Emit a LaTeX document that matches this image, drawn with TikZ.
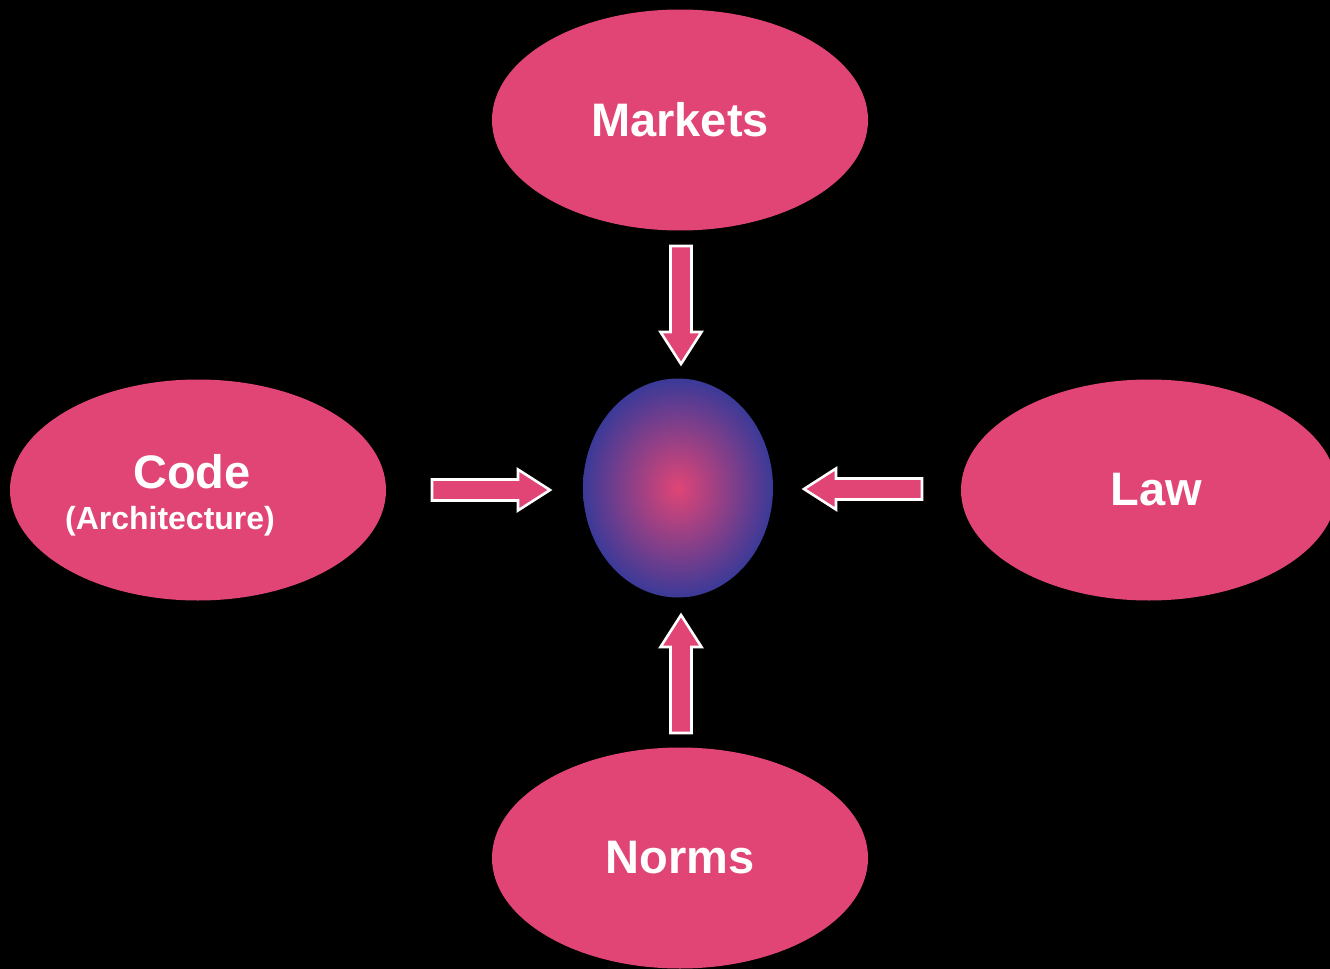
\documentclass[tikz,border=0pt]{standalone}
\usepackage{fontspec}
\setmainfont{Liberation Sans}
\usetikzlibrary{shapes.geometric}
\definecolor{pinkf}{HTML}{E04576}
\definecolor{blueo}{HTML}{3B3A98}
\begin{document}
\begin{tikzpicture}[x=0.5pt,y=-0.5pt,
  oval/.style={ellipse, fill=pinkf, inner sep=0pt, minimum width=188pt, minimum height=110.5pt},
  lbl/.style={text=white, font=\bfseries\fontsize{23.5}{28}\selectfont},
  sublbl/.style={text=white, font=\bfseries\fontsize{16}{19}\selectfont},
  barrow/.pic={\filldraw[fill=pinkf, draw=white, line width=1.3pt, line join=miter]
     (-59,-10.5) -- (27,-10.5) -- (27,-20.5) -- (59,0) -- (27,20.5) -- (27,10.5) -- (-59,10.5) -- cycle;}]
\fill[black] (0,0) rectangle (1330,969);
\useasboundingbox (0,0) rectangle (1330,969);
\clip (0,0) rectangle (1330,969);
\node[oval, lbl] (markets) at (680,120) {Markets};
\node[oval] (code) at (198,490) {};
\node[lbl] (codet) at (192,472) {Code};
\node[sublbl] (arch) at (170,521) {(Architecture)};
\node[oval, lbl] (law) at (1149,490) {\hspace*{7pt}Law};
\node[oval, lbl] (norms) at (680,858) {Norms};
\node[ellipse, minimum width=95pt, minimum height=109.5pt, inner sep=0pt,
      inner color=pinkf, outer color=blueo] (hub) at (678,488) {};
\pic[rotate=-90] at (681,305) {barrow};
\pic at (491,490) {barrow};
\pic[rotate=180] at (863,489) {barrow};
\pic[rotate=90] at (681,674) {barrow};
\end{tikzpicture}
\end{document}
